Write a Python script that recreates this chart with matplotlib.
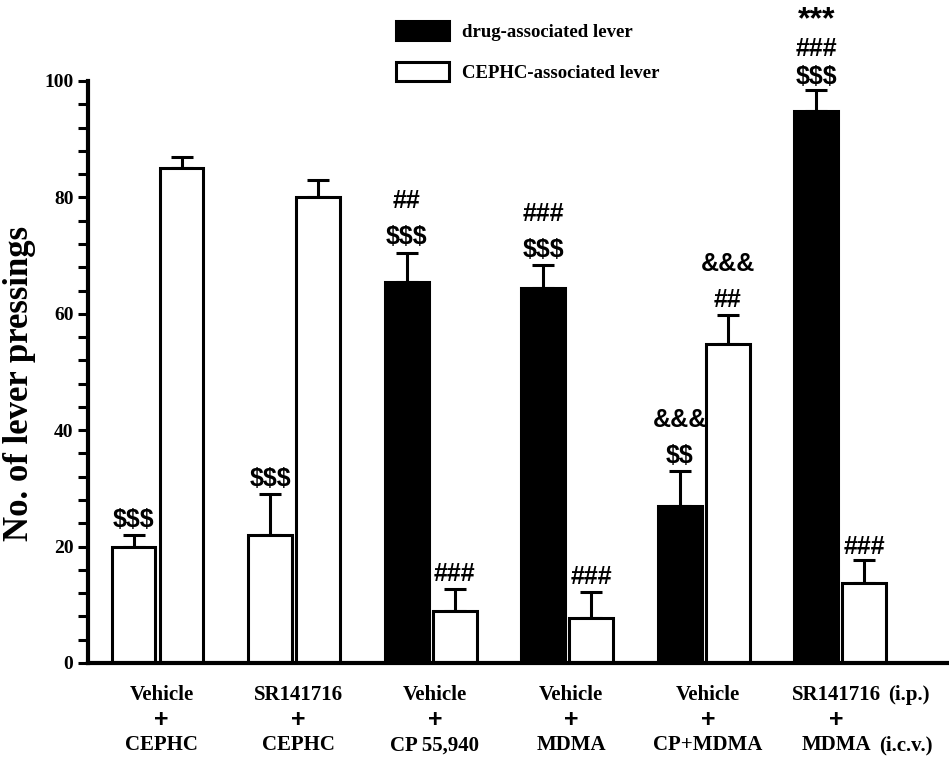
import numpy as np
import matplotlib
matplotlib.use("Agg")
import matplotlib.pyplot as plt
import matplotlib.ticker as ticker
import matplotlib.transforms as transforms

# data
groups_top = ["Vehicle", "SR141716", "Vehicle", "Vehicle", "Vehicle", "SR141716"]
groups_bottom = ["CEPHC", "CEPHC", "CP 55,940", "MDMA", "CP+MDMA", "MDMA"]
drug_lever = [20, 22, 65.5, 64.5, 27, 94.8]
drug_err = [2, 7, 5, 3.8, 6, 3.7]
cephc_lever = [85, 80, 9, 7.7, 54.8, 13.7]
cephc_err = [2, 3, 3.7, 4.5, 5, 4]
drug_fill = ["white", "white", "black", "black", "black", "black"]
drug_marks = [["$$$"], ["$$$"], ["$$$", "##"], ["$$$", "###"],
              ["$$", "&&&"], ["$$$", "###", "***"]]
cephc_marks = [[], [], ["###"], ["###"], ["##", "&&&"], ["###"]]

serif = "Liberation Serif"
sans = "Liberation Sans"

fig = plt.figure(figsize=(9.49, 7.59), dpi=100)
ax = fig.add_axes([0.0927, 0.1265, 0.905, 0.7668])

x = np.arange(len(drug_lever))
w = 0.32
off = 0.176
lw = 2.2

ekw = dict(ecolor="black", elinewidth=lw, capsize=8, capthick=lw)
for i in x:
    ax.bar(x[i] - off, drug_lever[i], w, color=drug_fill[i], edgecolor="black",
           linewidth=lw, zorder=2)
    ax.errorbar(x[i] - off, drug_lever[i], yerr=[[0], [drug_err[i]]], fmt="none",
                zorder=1, clip_on=False, **ekw)
    ax.bar(x[i] + off, cephc_lever[i], w, color="white", edgecolor="black",
           linewidth=lw, zorder=2)
    ax.errorbar(x[i] + off, cephc_lever[i], yerr=[[0], [cephc_err[i]]], fmt="none",
                zorder=1, clip_on=False, **ekw)

# significance marks stacked above the error caps
def put_marks(xpos, top, marks, base, step):
    for k, s in enumerate(marks):
        size, dy = (23, 0) if s == "***" else (18, 0)
        ax.annotate(s, (xpos, top), xytext=(0, base + k * step + dy),
                    textcoords="offset points", ha="center", va="center",
                    fontsize=size, fontweight="bold", family=sans,
                    parse_math=False, annotation_clip=False)

for i in x:
    base, step = (9, 20.5) if i == 5 else (11, 26)
    put_marks(x[i] - off, drug_lever[i] + drug_err[i], drug_marks[i], base, step)
    put_marks(x[i] + off, cephc_lever[i] + cephc_err[i], cephc_marks[i], base, step)

ax.set_xlim(-0.51, 5.78)
ax.set_ylim(0, 100)
ax.yaxis.set_major_locator(ticker.MultipleLocator(20))
ax.yaxis.set_minor_locator(ticker.MultipleLocator(4))
ax.tick_params(axis="y", which="both", length=7, width=2.2, direction="out")
ax.tick_params(axis="x", length=0, labelbottom=False)
for lab in ax.get_yticklabels():
    lab.set_fontfamily(serif)
    lab.set_fontweight("bold")
    lab.set_fontsize(14)
for sp in ["top", "right"]:
    ax.spines[sp].set_visible(False)
for sp in ["left", "bottom"]:
    ax.spines[sp].set_linewidth(3)

ax.set_ylabel("No. of lever pressings", fontsize=25, fontweight="bold", family=serif)
ax.yaxis.set_label_coords(-0.061, 0.48)

# group labels under the axis
tr = transforms.blended_transform_factory(ax.transData, fig.transFigure)
for i in x:
    xc = x[i] - 0.03 if i == 5 else x[i] + 0.03
    ax.text(xc, 0.084, groups_top[i], transform=tr, ha="center", va="center",
            fontsize=15, fontweight="bold", family=serif)
    ax.text(xc, 0.051, "+", transform=tr, ha="center", va="center",
            fontsize=18, fontweight="bold", family=sans)
    ax.text(xc, 0.018, groups_bottom[i], transform=tr, ha="center", va="center",
            fontsize=15, fontweight="bold", family=serif)
ax.text(5.5, 0.084, "(i.p.)", transform=tr, ha="center", va="center",
        fontsize=15, fontweight="bold", family=serif)
ax.text(5.48, 0.018, "(i.c.v.)", transform=tr, ha="center", va="center",
        fontsize=15, fontweight="bold", family=serif)

h1 = plt.Rectangle((0, 0), 1, 1, facecolor="black", edgecolor="black", linewidth=2.2)
h2 = plt.Rectangle((0, 0), 1, 1, facecolor="white", edgecolor="black", linewidth=2.2)
fig.legend([h1, h2], ["drug-associated lever", "CEPHC-associated lever"],
           loc="upper left", bbox_to_anchor=(0.4, 0.995), frameon=False,
           prop={"family": serif, "weight": "bold", "size": 13.5},
           handlelength=2.8, handleheight=1.2, labelspacing=1.15, handletextpad=0.7)

fig.savefig("out.png", dpi=100)
